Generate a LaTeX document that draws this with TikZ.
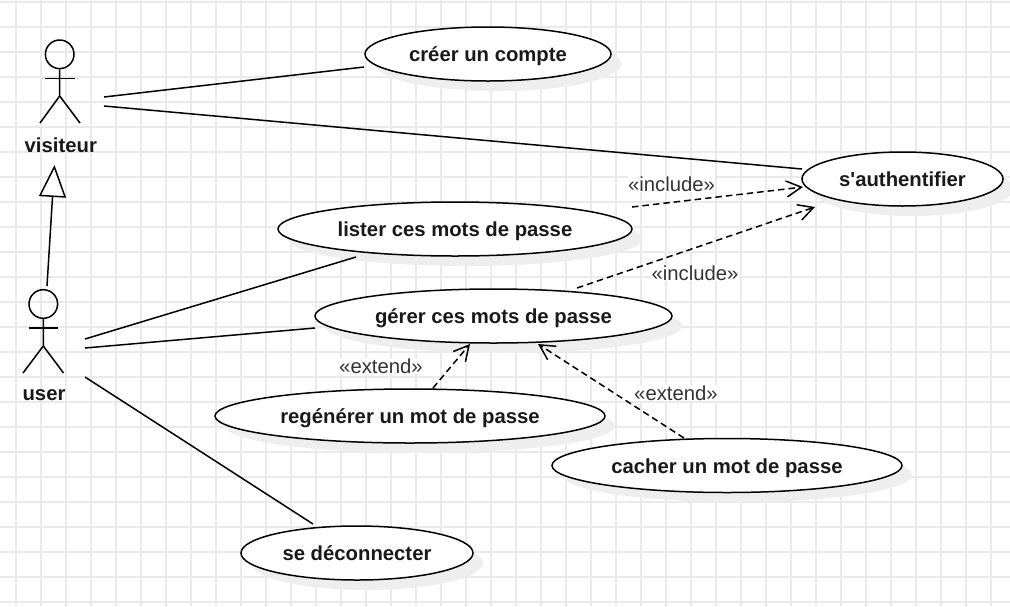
\documentclass[tikz,border=0pt]{standalone}
\usepackage{fontspec}
\setmainfont{Liberation Sans}
\newfontfamily\plainfam{Liberation Sans}
\usetikzlibrary{arrows.meta,shapes.geometric}
\definecolor{gridc}{HTML}{EAEAEA}
\definecolor{shadowc}{HTML}{EEEEEE}
\definecolor{labelc}{HTML}{333333}
\tikzset{
  x=1pt,y=-1pt,
  line/.style={draw=black,line width=1.5pt},
  usecase/.style={ellipse,line,fill=white,minimum height=54pt,inner sep=0pt,text height=15pt,text depth=0pt,font=\fontsize{20.3}{24}\selectfont\bfseries,text=black!90},
  ushadow/.style={ellipse,fill=shadowc,minimum height=54pt,inner sep=0pt},
  actorlabel/.style={font=\fontsize{20.3}{24}\selectfont\bfseries,text=black!90,inner sep=0pt},
  stereo/.style={font=\fontsize{20.3}{24}\selectfont,text=labelc,fill=white,inner sep=0.5pt},
  depend/.style={line,dash pattern=on 6.5pt off 4pt,-{Straight Barb[length=15pt,width=16pt,line width=1.5pt]}},
  generalize/.style={line,-{Triangle[open,fill=white,length=32pt,width=27pt,line width=1.5pt]}},
}
\newcommand{\ucshadow}[3]{\node[ushadow,minimum width=#2pt] at (#1+10,#3+10) {};}
\begin{document}
\begin{tikzpicture}
\useasboundingbox (0,0) rectangle (1010,606);
\fill[white] (0,0) rectangle (1010,606);
% grid
\foreach \gx in {16,41,...,1010} \draw[gridc,line width=1.4pt] (\gx,0) -- (\gx,606);
\foreach \gy in {2,27,...,606} \draw[gridc,line width=1.4pt] (0,\gy) -- (1010,\gy);
% shadows
\ucshadow{488}{246}{54}
\ucshadow{902.5}{201}{179}
\ucshadow{455}{354}{229}
\ucshadow{493.5}{357}{316}
\ucshadow{410}{390}{416}
\ucshadow{727}{350}{465}
\ucshadow{357}{232}{553}
% use cases
\node[usecase,minimum width=246pt] (creer) at (488,54) {créer un compte};
\node[usecase,minimum width=201pt] (auth) at (902.5,179) {\plainfam\bfseries s'authentifier};
\node[usecase,minimum width=354pt] (lister) at (455,229) {lister ces mots de passe};
\node[usecase,minimum width=357pt] (gerer) at (493.5,316) {gérer ces mots de passe};
\node[usecase,minimum width=390pt] (regen) at (410,416) {regénérer un mot de passe};
\node[usecase,minimum width=350pt] (cacher) at (727,465.5) {cacher un mot de passe};
\node[usecase,minimum width=232pt] (deco) at (357,553) {se déconnecter};
% actor visiteur
\node[circle,line,minimum size=28.6pt,inner sep=0pt] (vhead) at (59.7,54.3) {};
\draw[line] (vhead.south) -- (59.7,96) -- (40,123);
\draw[line] (59.7,96) -- (80,123);
\draw[line] (45,78.5) -- (74.5,78.5);
\node[actorlabel] (vlabel) at (60.8,145) {visiteur};
% actor user
\node[circle,line,minimum size=28.6pt,inner sep=0pt] (uhead) at (43.3,304) {};
\draw[line] (uhead.south) -- (43.3,346) -- (23,373);
\draw[line] (43.3,346) -- (63.5,373);
\draw[line] (29,328) -- (58,328);
\node[actorlabel] (ulabel) at (44,395.5) {user};
% connector free ends
\coordinate (va) at (104,97);
\coordinate (vb) at (104,106);
\coordinate (ua) at (85,339);
\coordinate (ub) at (85,348);
\coordinate (uc) at (85,377);
\coordinate (gs) at (47,286);
\coordinate (gt) at (54.5,165);
% associations
\draw[line] (va) -- ([shift={(-124,13)}]creer.center);
\draw[line] (vb) -- ([shift={(-100.5,-10)}]auth.center);
\draw[line] (ua) -- ([shift={(-99,28)}]lister.center);
\draw[line] (ub) -- ([shift={(-178.5,12)}]gerer.center);
\draw[line] (uc) -- ([shift={(-44,-29)}]deco.center);
\draw[generalize] (gs) -- (gt);
% dependencies
\draw[depend] ([shift={(177,-22)}]lister.center) -- ([shift={(-99.5,8)}]auth.center);
\draw[depend] ([shift={(83.5,-28)}]gerer.center) -- ([shift={(-87.5,28)}]auth.center);
\draw[depend] ([shift={(23,-28)}]regen.center) -- ([shift={(-23.5,28)}]gerer.center);
\draw[depend] ([shift={(-43,-27.5)}]cacher.center) -- ([shift={(44.5,28)}]gerer.center);
% labels
\node[stereo] at (671.5,184) {«include»};
\node[stereo] at (695,273) {«include»};
\node[stereo] at (381,366) {«extend»};
\node[stereo] at (676,393) {«extend»};
\end{tikzpicture}
\end{document}
